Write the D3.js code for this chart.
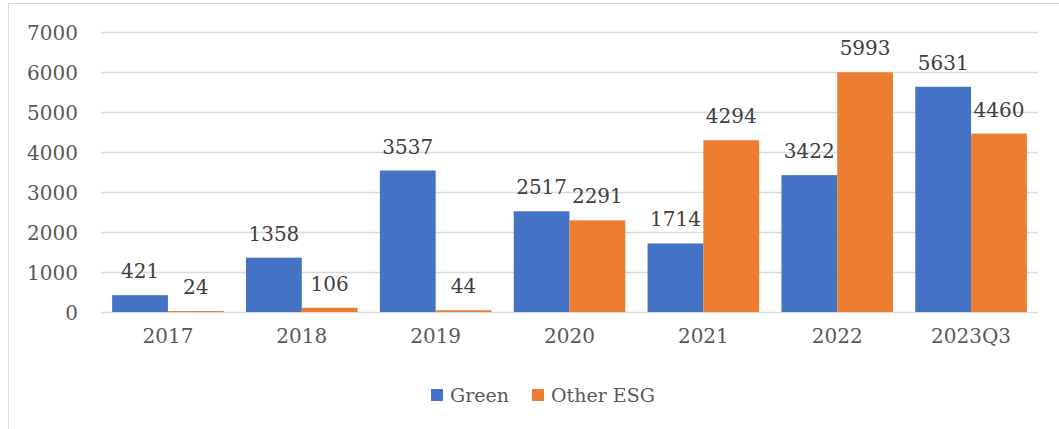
<!DOCTYPE html>
<html><head><meta charset="utf-8">
<script src="https://cdn.jsdelivr.net/npm/d3@7"></script>
<style>body{margin:0;background:#fff}svg{display:block}</style>
</head><body>
<script>
const categories = ["2017","2018","2019","2020","2021","2022","2023Q3"];
const seriesNames = ["Green","Other ESG"];
const green = [421,1358,3537,2517,1714,3422,5631];
const otherESG = [24,106,44,2291,4294,5993,4460];
const yTicks = [0,1000,2000,3000,4000,5000,6000,7000];
const colors = ["#4472C4","#ED7D31"];

(function(){
const W=1059,H=429;
const svg=d3.select("body").append("svg").attr("width",W).attr("height",H);
const font="DejaVu Serif";
svg.append("rect").attr("x",8.5).attr("y",3.5).attr("width",1080).attr("height",500)
  .attr("fill","none").attr("stroke","#d9d9d9").attr("stroke-width",1);

const pLeft=101,pRight=1038,pTop=32,pBottom=312;
const x=d3.scaleBand().domain(categories).range([pLeft,pRight]).paddingInner(0).paddingOuter(0);
const y=d3.scaleLinear().domain([0,7000]).range([pBottom,pTop]);
const gap=0.4;
const barW=x.bandwidth()/(2+gap);
const xs=d3.scaleBand().domain(seriesNames).range([barW*gap/2, barW*gap/2+2*barW]);

svg.append("g").selectAll("line").data(yTicks).join("line")
  .attr("x1",pLeft).attr("x2",pRight).attr("y1",d=>Math.round(y(d))+0.5).attr("y2",d=>Math.round(y(d))+0.5)
  .attr("stroke","#d9d9d9").attr("stroke-width",1.3);

const yAxis=d3.axisLeft(y).tickValues(yTicks).tickFormat(d3.format("d")).tickSize(0).tickPadding(0);
const gy=svg.append("g").attr("transform",`translate(78,0)`).call(yAxis);
gy.select(".domain").remove();
gy.selectAll("text").attr("font-family",font).attr("font-size",20).attr("fill","#595959").attr("dy","0.36em");

const xAxis=d3.axisBottom(x).tickSize(0).tickPadding(0);
const gx=svg.append("g").attr("transform",`translate(0,${pBottom})`).call(xAxis);
gx.select(".domain").remove();
gx.selectAll("text").attr("font-family",font).attr("font-size",20).attr("fill","#595959").attr("dy","31").attr("y",0);

const data=[green,otherESG];
data.forEach((vals,si)=>{
  const g=svg.append("g");
  g.selectAll("rect").data(vals).join("rect")
    .attr("x",(d,i)=>x(categories[i])+xs(seriesNames[si]))
    .attr("width",xs.bandwidth())
    .attr("y",d=>y(d)).attr("height",d=>y(0)-y(d))
    .attr("fill",colors[si]);
  g.selectAll("text").data(vals).join("text")
    .attr("x",(d,i)=>x(categories[i])+xs(seriesNames[si])+xs.bandwidth()/2)
    .attr("y",d=>y(d)-17)
    .attr("text-anchor","middle").attr("font-family",font).attr("font-size",20).attr("fill","#404040")
    .text(d=>d);
});

const leg=svg.append("g");
const legX=[431,532];
seriesNames.forEach((n,i)=>{
  leg.append("rect").attr("x",legX[i]).attr("y",389).attr("width",12).attr("height",12).attr("fill",colors[i]);
  leg.append("text").attr("x",legX[i]+19).attr("y",395).attr("dy","0.36em").attr("font-family",font).attr("font-size",19).attr("fill","#595959").text(n);
});
})();
</script>
</body></html>
